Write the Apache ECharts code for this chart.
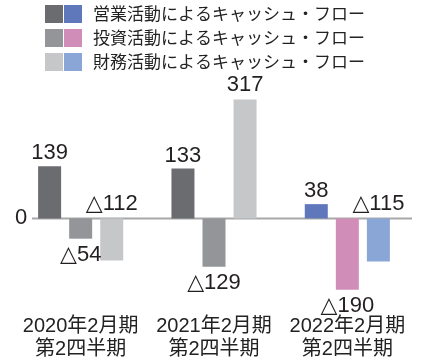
<!DOCTYPE html>
<html><head><meta charset="utf-8">
<script src="https://cdn.jsdelivr.net/npm/echarts@6/dist/echarts.min.js"></script>
<style>html,body{margin:0;padding:0;background:#fff}#c{width:427px;height:363px}</style>
</head><body><div id="c"></div>
<script>
const categories = ['2020年2月期\n第2四半期', '2021年2月期\n第2四半期', '2022年2月期\n第2四半期'];
const seriesNames = ['営業活動によるキャッシュ・フロー', '投資活動によるキャッシュ・フロー', '財務活動によるキャッシュ・フロー'];
const operating = [139, 133, 38];
const investing = [-54, -129, -190];
const financing = [-112, 317, -115];
const yTicks = [0];

const grayColors = ['#6b6c70', '#939599', '#c6c7c9'];
const accentColors = ['#5f78bb', '#d08db7', '#89a6d6'];
const highlightIndex = 2;
const labelPositions = ['top', 'bottom', 'top'];
const labelDistances = [2, 5, 3];

const numFont = '"Liberation Sans", "DejaVu Sans", sans-serif';
const jpFont = '"Noto Sans CJK JP", sans-serif';
const mixFont = '"Liberation Sans", "Noto Sans CJK JP", sans-serif';

const values = [operating, investing, financing];
const rich = {};
for (let i = 0; i < 3; i++) {
  rich['g' + i] = { width: 18, height: 18, lineHeight: 18, fontSize: 18, backgroundColor: grayColors[i] };
  rich['c' + i] = { width: 18, height: 18, lineHeight: 18, fontSize: 18, backgroundColor: accentColors[i] };
}
rich.s = { width: 1, height: 18, lineHeight: 18 };
rich.t = { fontSize: 17, fontFamily: jpFont, color: '#222', padding: [0, 0, 0, 11], lineHeight: 20 };

const series = values.map((vals, si) => ({
  name: seriesNames[si],
  type: 'bar',
  barWidth: 23,
  barGap: '35%',
  itemStyle: { color: grayColors[si] },
  data: vals.map((v, ci) => ({
    value: v,
    itemStyle: { color: ci === highlightIndex ? accentColors[si] : grayColors[si] }
  })),
  label: {
    show: true,
    position: labelPositions[si],
    distance: labelDistances[si],
    fontFamily: numFont,
    fontSize: 22,
    color: '#231f20',
    formatter: p => p.value < 0 ? '\u25B3' + Math.abs(p.value) : String(p.value)
  }
}));

const chart = echarts.init(document.getElementById('c'));
chart.setOption({
  animation: false,
  backgroundColor: '#fff',
  legend: {
    orient: 'vertical',
    left: 35,
    top: -1,
    icon: 'none',
    itemWidth: 0,
    itemHeight: 20,
    itemGap: 5,
    selectedMode: false,
    data: seriesNames,
    formatter: name => {
      const i = seriesNames.indexOf(name);
      return '{g' + i + '|}{s|}{c' + i + '|}{t|' + name + '}';
    },
    textStyle: { rich: rich }
  },
  grid: { left: 14, right: 13, top: 87, bottom: 69.5, containLabel: false },
  xAxis: {
    type: 'category',
    data: categories,
    axisLine: { show: false, onZero: false },
    axisTick: { show: false },
    axisLabel: {
      interval: 0,
      margin: 21,
      fontSize: 20,
      lineHeight: 23,
      fontFamily: mixFont,
      color: '#222'
    }
  },
  yAxis: {
    type: 'value',
    min: -200,
    max: 350,
    interval: 50,
    splitLine: { show: false },
    axisLine: { show: false },
    axisTick: { show: false },
    axisLabel: {
      inside: true,
      margin: 1,
      fontSize: 22,
      fontFamily: numFont,
      color: '#231f20',
      formatter: v => yTicks.indexOf(v) >= 0 ? String(v) : ''
    }
  },
  series: series
});

const y0 = chart.convertToPixel({ yAxisIndex: 0 }, 0);
chart.setOption({
  graphic: [{
    type: 'line',
    z: 1,
    shape: { x1: 32, y1: y0, x2: 412, y2: y0 },
    style: { stroke: '#a8a8a8', lineWidth: 2 }
  }]
});
</script>
</body></html>
